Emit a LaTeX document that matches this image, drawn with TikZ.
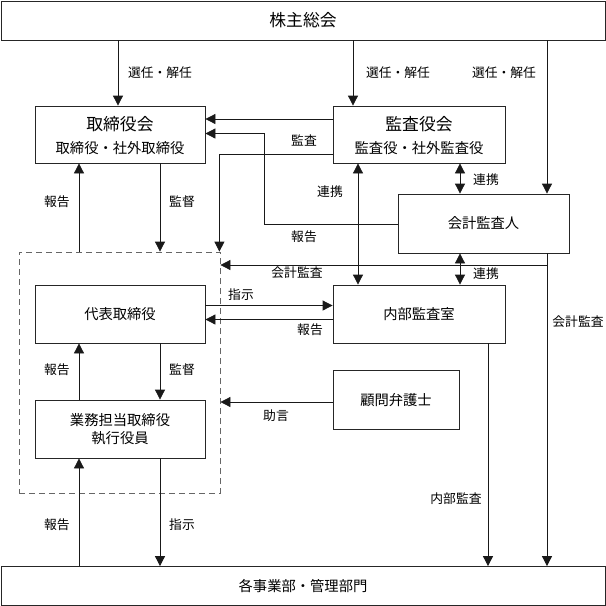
\documentclass[tikz,border=0pt]{standalone}
\usepackage{fontspec}
\setmainfont{Noto Sans CJK JP}
\usetikzlibrary{arrows.meta}
\tikzset{
  box/.style={draw=black!85, line width=0.8pt, inner sep=0pt, align=center, font=\fontsize{14.3}{18}\selectfont},
  ttl/.style={inner sep=0pt, font=\fontsize{16.8}{18}\selectfont},
  sub/.style={inner sep=0pt, font=\fontsize{14.3}{16}\selectfont},
  lbl/.style={inner sep=0pt, font=\fontsize{12.8}{14}\selectfont},
  arr/.style={-{Triangle[length=10pt,width=10pt]}, line width=0.8pt, draw=black!90},
  dbl/.style={{Triangle[length=10pt,width=10pt]}-{Triangle[length=10pt,width=10pt]}, line width=0.8pt, draw=black!90},
  dashbox/.style={draw=black!60, line width=0.8pt, dash pattern=on 6pt off 4pt, inner sep=0pt}
}
\begin{document}
\begin{tikzpicture}[x=1pt,y=-1pt]
\useasboundingbox (0,0) rectangle (606,606);
% boxes
\node[box, minimum width=604pt, minimum height=39pt] (kabu) at (303,20.5) {};
\node[ttl] (kabut) at (kabu.center) {株主総会};
\node[box, minimum width=170pt, minimum height=57pt] (tori) at (120,134.5) {};
\node[ttl] (torit) at (120,124.5) {取締役会};
\node[sub] (toris) at (120,148) {取締役・社外取締役};
\node[box, minimum width=172pt, minimum height=57pt] (kansa) at (419,134.5) {};
\node[ttl] (kansat) at (419,124.5) {監査役会};
\node[sub] (kansas) at (419,148) {監査役・社外監査役};
\node[box, minimum width=171pt, minimum height=59pt] (kaikei) at (483.5,223.5) {会計監査人};
\node[dashbox, minimum width=201pt, minimum height=241pt] (dash) at (119.5,372.5) {};
\node[box, minimum width=170pt, minimum height=58pt] (daihyo) at (120,314) {代表取締役};
\node[box, minimum width=172pt, minimum height=58pt] (naibu) at (419,314) {内部監査室};
\node[box, minimum width=126pt, minimum height=59pt] (komon) at (396,400) {顧問弁護士};
\node[box, minimum width=170pt, minimum height=58pt] (gyomu) at (120,429) {業務担当取締役\\執行役員};
\node[box, minimum width=604pt, minimum height=39pt] (bottom) at (303,586) {各事業部・管理部門};
% election arrows
\draw[arr] (kabu.south -| 118,0) -- (tori.north -| 118,0);
\draw[arr] (kabu.south -| 353,0) -- (kansa.north -| 353,0);
\draw[arr] (kabu.south -| 547,0) -- (kaikei.north -| 547,0);
\node[lbl] (l1) at (160,73) {選任・解任};
\node[lbl] (l2) at (398,73) {選任・解任};
\node[lbl] (l3) at (504,73) {選任・解任};
% kansa -> tori / dash
\draw[arr] (kansa.west |- 0,119) -- (tori.east |- 0,119);
\draw[arr] (kaikei.west |- 0,224) -| (264,133.5) -- (tori.east |- 0,133.5);
\draw[arr] (kansa.west |- 0,154) -| ([xshift=-1pt]dash.north east);
\node[lbl] (l4) at (304,140) {監査};
\node[lbl] (l5) at (304,237) {報告};
% renkei
\draw[dbl] (kansa.south -| 358,0) -- (naibu.north -| 358,0);
\node[lbl] (l6) at (330,192) {連携};
\draw[dbl] (kansa.south -| 460,0) -- (kaikei.north -| 460,0);
\node[lbl] (l7) at (486,180) {連携};
\draw[dbl] (kaikei.south -| 460,0) -- (naibu.north -| 460,0);
\node[lbl] (l8) at (486,274) {連携};
% kaikei audit
\coordinate (kb) at (547,265);
\draw[arr] (kaikei.south -| 547,0) -- (bottom.north -| 547,0);
\draw[arr] (kb) -- (dash.east |- kb);
\node[lbl] (l9) at (297,273) {会計監査};
\node[lbl] (l10) at (578,322) {会計監査};
% tori <-> dash
\draw[arr] (dash.north -| 79,0) -- (tori.south -| 79,0);
\draw[arr] (tori.south -| 160,0) -- (dash.north -| 160,0);
\node[lbl] (l11) at (57,202) {報告};
\node[lbl] (l12) at (182,202) {監督};
% daihyo <-> naibu
\draw[arr] (daihyo.east |- 0,305.5) -- (naibu.west |- 0,305.5);
\draw[arr] (naibu.west |- 0,319.5) -- (daihyo.east |- 0,319.5);
\node[lbl] (l13) at (241,295) {指示};
\node[lbl] (l14) at (310,330) {報告};
% daihyo <-> gyomu
\draw[arr] (gyomu.north -| 79,0) -- (daihyo.south -| 79,0);
\draw[arr] (daihyo.south -| 160,0) -- (gyomu.north -| 160,0);
\node[lbl] (l15) at (57,370) {報告};
\node[lbl] (l16) at (182,370) {監督};
% komon
\draw[arr] (komon.west |- 0,402) -- (dash.east |- 0,402);
\node[lbl] (l17) at (276,416) {助言};
% gyomu <-> bottom
\draw[arr] (bottom.north -| 79,0) -- (gyomu.south -| 79,0);
\draw[arr] (gyomu.south -| 160,0) -- (bottom.north -| 160,0);
\node[lbl] (l18) at (57,525) {報告};
\node[lbl] (l19) at (182,525) {指示};
% naibu -> bottom
\draw[arr] (naibu.south -| 488,0) -- (bottom.north -| 488,0);
\node[lbl] (l20) at (456,499) {内部監査};
\end{tikzpicture}
\end{document}
